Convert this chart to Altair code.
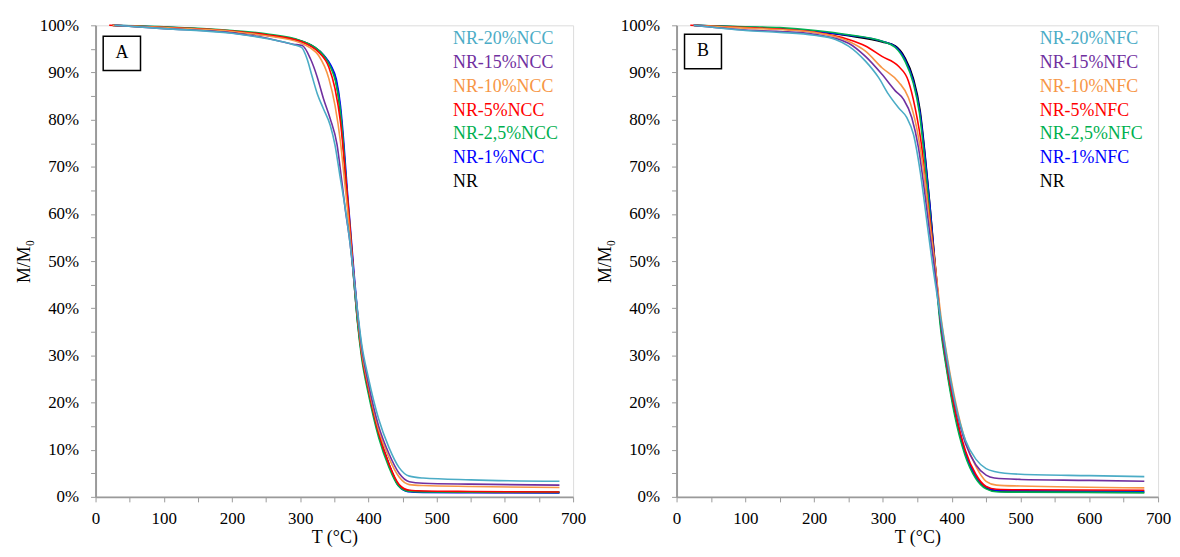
import altair as alt
import pandas as pd

FONT = "Liberation Serif"
AXIS_GRAY = "#9a9a9a"

SERIES = ["NR", "1%", "2,5%", "5%", "10%", "15%", "20%"]
COLORS = ["#000000", "#0000FF", "#00B050", "#FF0000", "#F79646", "#7030A0", "#4BACC6"]
LEGEND_ORDER = ["20%", "15%", "10%", "5%", "2,5%", "1%", "NR"]
LEGEND_Y = [97.0, 92.0, 86.9, 81.9, 76.9, 71.8, 66.8]

# ---------------- Panel A (NCC) ----------------
A_T = {
    "NR":   [25, 100, 200, 250, 300, 320, 335, 345, 352, 358, 363, 368, 372, 378, 384, 390, 400, 415, 430, 444, 458, 480, 550, 680],
    "1%":   [25, 100, 200, 250, 300, 320, 335, 345, 353, 359, 364, 369, 373, 379, 385, 390, 400, 415, 430, 444, 458, 480, 550, 680],
    "2,5%": [25, 100, 200, 250, 300, 320, 335, 345, 352, 358, 363, 368, 373, 378, 384, 390, 400, 415, 430, 444, 458, 480, 550, 680],
    "5%":   [20, 100, 200, 250, 300, 315, 327, 342, 351, 359, 366, 372, 378, 384, 390, 400, 415, 430, 445, 460, 480, 550, 680],
    "10%":  [25, 100, 200, 250, 300, 315, 327, 342, 351, 359, 365, 370, 377, 383, 390, 400, 415, 430, 445, 460, 480, 550, 680],
    "15%":  [28, 100, 200, 250, 290, 303, 315, 325, 334, 344, 354, 361, 366, 372, 378, 384, 390, 400, 415, 430, 445, 460, 480, 550, 680],
    "20%":  [28, 100, 200, 250, 290, 302, 310, 317, 325, 334, 344, 351, 358, 366, 372, 378, 384, 390, 400, 415, 430, 445, 460, 480, 550, 680],
}
A_M = {
    "NR":   [100, 99.5, 98.6, 97.9, 96.7, 95.4, 93.5, 91.2, 88.5, 83.0, 75.0, 65.0, 57.5, 47.3, 37.5, 30.4, 22.6, 13.3, 6.8, 2.5, 1.3, 1.1, 1.0, 0.95],
    "1%":   [100, 99.6, 98.7, 97.9, 96.6, 95.4, 93.6, 91.5, 88.5, 83.0, 75.0, 65.0, 58.0, 47.3, 37.5, 30.8, 22.9, 13.6, 7.0, 2.4, 1.1, 0.95, 0.9, 0.85],
    "2,5%": [100, 99.7, 98.9, 98.2, 96.8, 95.5, 93.5, 91.0, 88.0, 83.0, 75.5, 65.5, 57.0, 47.3, 37.0, 29.5, 21.8, 12.6, 6.3, 2.3, 1.2, 1.05, 1.0, 0.95],
    "5%":   [100, 99.6, 98.8, 98.0, 96.6, 95.6, 94.3, 91.1, 86.6, 79.5, 69.0, 59.0, 48.0, 38.5, 30.5, 22.8, 13.5, 7.0, 2.6, 1.4, 1.25, 1.15, 1.05],
    "10%":  [100, 99.5, 98.7, 97.8, 96.3, 95.2, 93.6, 88.7, 83.0, 75.3, 67.0, 60.0, 49.0, 40.0, 31.0, 23.5, 14.3, 8.3, 4.2, 2.6, 2.4, 2.2, 2.0],
    "15%":  [100, 99.3, 98.4, 97.3, 96.0, 95.7, 92.9, 89.0, 84.5, 80.2, 74.7, 66.9, 61.0, 55.0, 47.4, 39.0, 31.8, 24.0, 15.0, 9.2, 5.0, 3.2, 2.9, 2.7, 2.5],
    "20%":  [100, 99.3, 98.3, 97.2, 95.9, 95.3, 92.9, 89.4, 85.5, 82.3, 78.8, 74.6, 68.3, 61.2, 55.0, 47.5, 39.5, 32.5, 25.2, 16.5, 10.5, 6.2, 4.4, 4.0, 3.6, 3.3],
}

# ---------------- Panel B (NFC) ----------------
B_T = {
    "NR":   [25, 100, 150, 202, 250, 299, 318, 332, 344, 354, 361, 368.5, 375.7, 385, 392.6, 404.6, 419, 435, 450, 465, 500, 680],
    "1%":   [25, 100, 150, 202, 250, 299, 318, 332, 344, 354, 361, 368.5, 375.5, 385, 392.6, 404.6, 419, 435, 450, 465, 500, 680],
    "2,5%": [25, 100, 150, 202, 250, 299, 318, 332, 344, 353, 360, 367.5, 375, 384, 392, 404, 419, 435, 450, 465, 500, 680],
    "5%":   [20, 100, 150, 202, 250, 274.6, 298.6, 322.7, 337, 346.8, 356.5, 363, 369, 376, 385, 393, 405, 420, 435, 450, 465, 500, 680],
    "10%":  [25, 100, 150, 200, 250, 274.6, 298.6, 322.7, 337, 349, 361, 368, 376, 385, 393, 405, 420, 435, 450, 465, 500, 680],
    "15%":  [25, 100, 150, 200, 250, 274.6, 298.6, 318, 330, 342, 351.6, 361, 368, 375, 385, 393, 405, 420, 435, 450, 462, 500, 600, 680],
    "20%":  [25, 100, 150, 200, 231, 250, 274.6, 293.8, 308, 322.7, 334.8, 344.4, 354, 363.7, 371.9, 385, 393, 405, 420, 435, 450, 462, 500, 600, 680],
}
B_M = {
    "NR":   [100, 99.6, 99.3, 98.7, 97.8, 96.5, 95.6, 93.1, 88.8, 81.9, 72.8, 61.4, 49.5, 35.4, 27.7, 17.9, 9.5, 4.2, 1.9, 1.2, 1.05, 0.95],
    "1%":   [100, 99.6, 99.3, 98.7, 97.9, 96.6, 95.5, 92.8, 88.3, 81.4, 72.6, 61.4, 49.5, 35.6, 28.0, 18.3, 9.8, 4.4, 2.1, 1.4, 1.3, 1.2],
    "2,5%": [100, 99.7, 99.5, 98.9, 98.0, 96.6, 95.3, 92.4, 87.8, 81.5, 72.5, 61.4, 49.5, 35.5, 27.5, 17.5, 9.0, 3.9, 1.7, 1.1, 1.0, 0.9],
    "5%":   [100, 99.5, 99.2, 98.5, 97.0, 95.6, 93.4, 91.3, 88.2, 82.5, 74.1, 65.0, 58.0, 49.0, 36.0, 28.0, 18.3, 9.8, 4.8, 2.2, 1.6, 1.5, 1.4],
    "10%":  [100, 99.4, 99.1, 98.5, 96.6, 94.5, 91.0, 88.0, 84.7, 78.3, 67.1, 58.0, 49.0, 37.5, 30.0, 20.5, 11.8, 6.5, 3.3, 2.5, 2.3, 1.9],
    "15%":  [100, 99.0, 98.7, 98.1, 96.2, 93.4, 89.6, 86.1, 84.3, 80.4, 74.1, 64.2, 56.0, 48.5, 36.0, 28.5, 19.5, 11.3, 6.8, 4.6, 4.0, 3.7, 3.5, 3.3],
    "20%":  [100, 98.9, 98.5, 97.9, 97.0, 95.6, 92.4, 88.9, 85.4, 82.5, 80.4, 76.9, 69.2, 58.6, 49.5, 37.0, 29.5, 20.0, 12.0, 8.0, 6.0, 5.4, 4.8, 4.5, 4.3],
}

# Label boxes "A" / "B": [T_left, T_right, M_top, M_bottom]
BOX_A = [11.2, 65.9, 97.7, 90.4]
BOX_B = [11.6, 65.3, 98.1, 90.8]
LEGEND_X_A = 524
LEGEND_X_B = 528

color_scale = alt.Scale(domain=SERIES, range=COLORS)


def build_panel(T, M, suffix, letter, box, legend_x, width):
    x_axis = alt.Axis(
        values=list(range(0, 701, 50)),
        labelExpr="datum.value % 100 == 0 ? datum.label : ''",
        title="T (°C)", grid=False, tickSize=5, tickColor=AXIS_GRAY, tickWidth=1,
        domainColor=AXIS_GRAY, domainWidth=2, labelFont=FONT, labelFontSize=17,
        labelColor="#000000", titleFont=FONT, titleFontSize=18, titleFontWeight="normal",
        titleColor="#000000", labelPadding=9, titlePadding=2, labelFlush=False,
    )
    y_axis = alt.Axis(
        values=list(range(0, 101, 5)),
        labelExpr="datum.value % 10 == 0 ? datum.value + '%' : ''",
        title="M/M₀", grid=False, tickSize=5, tickColor=AXIS_GRAY, tickWidth=1,
        domainColor=AXIS_GRAY, domainWidth=2, labelFont=FONT, labelFontSize=17,
        labelColor="#000000", titleFont=FONT, titleFontSize=18, titleFontWeight="normal",
        titleColor="#000000", labelPadding=12, titlePadding=6, labelFlush=False,
    )
    xs = alt.Scale(domain=[0, 700], nice=False, zero=False)
    ys = alt.Scale(domain=[0, 100], nice=False)

    def X(field):
        return alt.X(field, scale=xs, axis=x_axis)

    def Y(field):
        return alt.Y(field, scale=ys, axis=y_axis)

    layers = []
    for s in SERIES:
        df = pd.DataFrame({"T": T[s], "M": M[s], "series": s})
        layers.append(
            alt.Chart(df).mark_line(interpolate="monotone", strokeWidth=1.8 if s == "NR" else 1.6).encode(
                x=X("T:Q"), y=Y("M:Q"),
                color=alt.Color("series:N", scale=color_scale, legend=None),
            )
        )

    leg = pd.DataFrame({
        "series": LEGEND_ORDER,
        "label": [("NR" if s == "NR" else "NR-" + s + suffix) for s in LEGEND_ORDER],
        "T": [legend_x] * len(LEGEND_ORDER),
        "M": LEGEND_Y,
    })
    layers.append(
        alt.Chart(leg).mark_text(align="left", baseline="middle", font=FONT, fontSize=18).encode(
            x=X("T:Q"), y=Y("M:Q"),
            text="label:N",
            color=alt.Color("series:N", scale=color_scale, legend=None),
        )
    )

    bx = pd.DataFrame({"x1": [box[0]], "x2": [box[1]], "y1": [box[2]], "y2": [box[3]],
                       "xc": [(box[0] + box[1]) / 2], "yc": [(box[2] + box[3]) / 2], "t": [letter]})
    layers.append(
        alt.Chart(bx).mark_rect(fill="white", stroke="#000000", strokeWidth=1.5).encode(
            x=X("x1:Q"), x2="x2:Q", y=Y("y1:Q"), y2="y2:Q"
        )
    )
    layers.append(
        alt.Chart(bx).mark_text(font=FONT, fontSize=18, color="#000000", baseline="middle").encode(
            x=X("xc:Q"), y=Y("yc:Q"), text="t:N"
        )
    )
    return alt.layer(*layers).properties(width=width, height=474)


panel_a = build_panel(A_T, A_M, "NCC", "A", BOX_A, LEGEND_X_A, 480)
panel_b = build_panel(B_T, B_M, "NFC", "B", BOX_B, LEGEND_X_B, 484)

chart = alt.hconcat(panel_a, panel_b, spacing=104, bounds="flush").properties(
    padding={"left": 6, "top": 6, "right": 0, "bottom": 0}
).configure_view(stroke=AXIS_GRAY, strokeWidth=2).configure(background="white")

chart.save("out.html", embed_options={"renderer": "svg", "actions": False})
